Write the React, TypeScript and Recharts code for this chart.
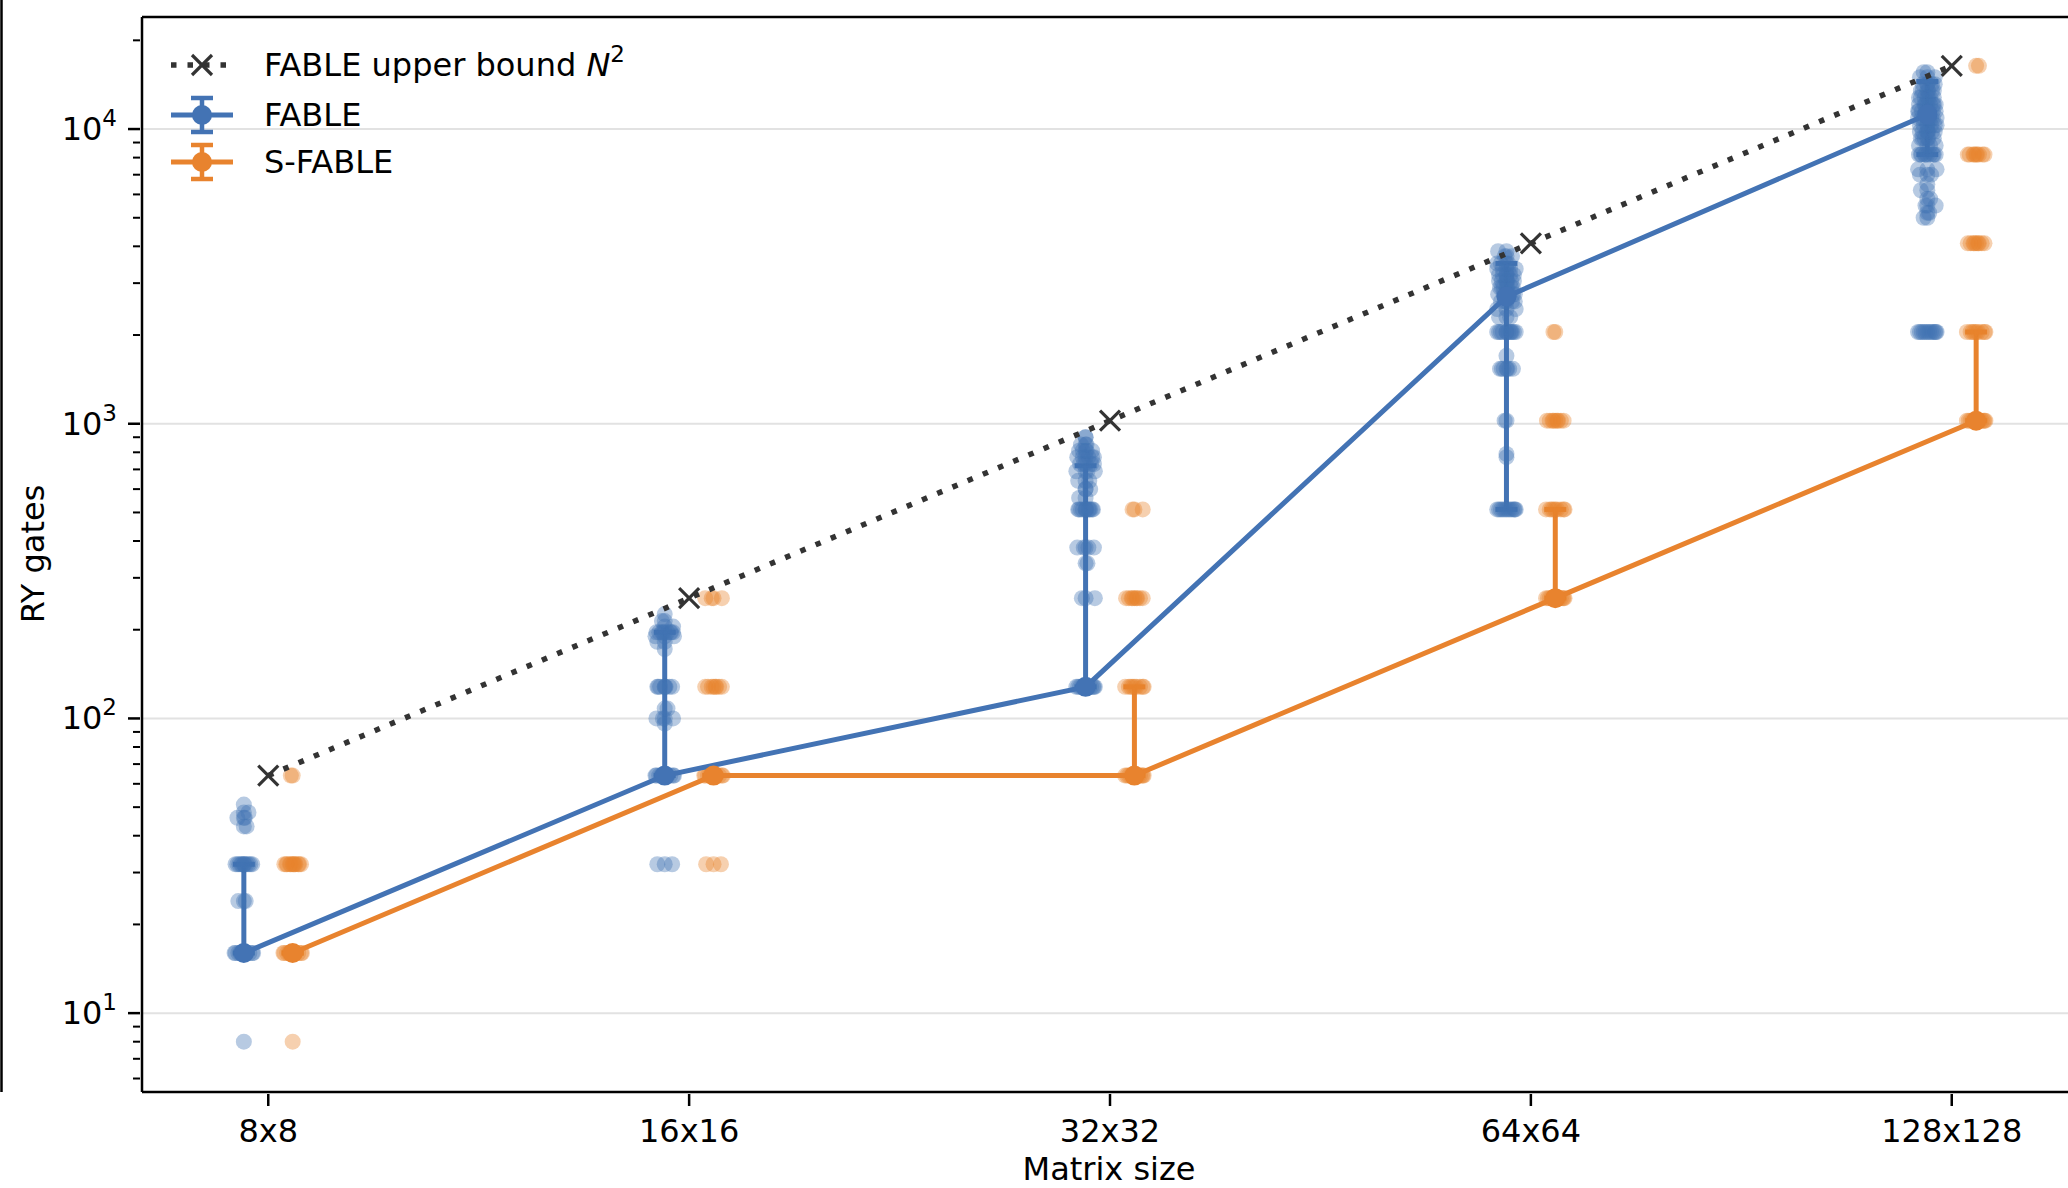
import React from "react";
import { ScatterChart, Scatter, XAxis, YAxis, CartesianGrid, ErrorBar, ReferenceLine } from "recharts";

const BLUE = "#4373b4";
const ORANGE = "#e8832e";
const INK = "#333333";
const FONT = "'DejaVu Sans', sans-serif";
const FS = 32;

const SIZES = ["8x8", "16x16", "32x32", "64x64", "128x128"];
const UPPER_BOUND = [64, 256, 1024, 4096, 16384];

// pointplot centres and error bar ends
const FABLE_MID = [16, 64, 128, 2700, 11200];
const FABLE_LOW = [16, 64, 128, 512, 8192];
const FABLE_HIGH = [32, 196, 720, 3500, 14500];

const SFABLE_MID = [16, 64, 64, 256, 1024];
const SFABLE_LOW = [16, 64, 64, 256, 1024];
const SFABLE_HIGH = [16, 64, 128, 512, 2048];

// strip samples per matrix size: [gate count, number of matrices]
const FABLE_SAMPLES: [number, number][][] = [
  [[8, 1], [16, 12], [24, 3], [32, 12], [43, 2], [46, 3], [48, 2], [51, 1]],
  [[32, 3], [64, 12], [96, 1], [100, 4], [108, 2], [128, 8], [172, 1], [182, 2], [190, 3], [196, 9], [205, 2], [214, 2], [226, 1]],
  [[128, 12], [256, 3], [336, 2], [380, 5], [512, 12], [560, 2], [600, 3], [640, 3], [690, 4], [730, 5], [770, 6], [810, 5], [850, 3], [900, 2]],
  [[512, 12], [770, 1], [790, 1], [1024, 2], [1536, 7], [1700, 1], [2048, 12], [2300, 3], [2450, 3], [2600, 5], [2750, 6], [2900, 7], [3050, 7], [3200, 6], [3350, 6], [3500, 4], [3700, 3], [3850, 2]],
  [[2048, 12], [5000, 2], [5200, 2], [5500, 3], [5800, 2], [6200, 2], [6500, 1], [7000, 3], [7300, 3], [8192, 10], [8800, 4], [9300, 6], [9800, 7], [10300, 7], [10900, 8], [11500, 8], [12100, 8], [12800, 7], [13500, 6], [14200, 5], [15000, 3], [15600, 2]],
];

const SFABLE_SAMPLES: [number, number][][] = [
  [[8, 1], [16, 12], [32, 12], [64, 2]],
  [[32, 3], [64, 12], [128, 8], [256, 4]],
  [[64, 12], [128, 9], [256, 9], [512, 3]],
  [[256, 12], [512, 9], [1024, 9], [2048, 2]],
  [[1024, 12], [2048, 9], [4096, 9], [8192, 9], [16384, 2]],
];

const MAJOR_TICKS = [10, 100, 1000, 10000];
const MINOR_TICKS = [6, 7, 8, 9, 20, 30, 40, 50, 60, 70, 80, 90, 200, 300, 400, 500, 600, 700, 800, 900, 2000, 3000, 4000, 5000, 6000, 7000, 8000, 9000, 20000];
const Y_TICKS = [...MINOR_TICKS, ...MAJOR_TICKS].sort((a, b) => a - b);
const Y_DOMAIN: [number, number] = [5.4, 24000];

const DODGE = 0.058;
const JITTER_HALF = 0.022;
const JITTER = [0, 0.8, -0.8, 0.4, -0.4, 1, -1, 0.2, -0.6, 0.6, -0.2, 0.9, -0.9, 0.3, -0.3, 0.7, -0.7, 0.1, -0.5, 0.5];

function stripPoints(groups: [number, number][][], side: number) {
  const pts: { x: number; y: number }[] = [];
  groups.forEach((group, i) => {
    group.forEach(([value, count], j) => {
      for (let k = 0; k < count; k++) {
        const jitter = JITTER[(k + j * 3) % JITTER.length] * JITTER_HALF;
        pts.push({ x: i + side * DODGE + (k === 0 ? 0 : jitter), y: value });
      }
    });
  });
  return pts;
}

function pointSeries(mid: number[], low: number[], high: number[], side: number) {
  return mid.map((y, i) => ({ x: i + side * DODGE, y, err: [y - low[i], high[i] - y] }));
}

const fableStrip = stripPoints(FABLE_SAMPLES, -1);
const sfableStrip = stripPoints(SFABLE_SAMPLES, 1);
const fablePoints = pointSeries(FABLE_MID, FABLE_LOW, FABLE_HIGH, -1);
const sfablePoints = pointSeries(SFABLE_MID, SFABLE_LOW, SFABLE_HIGH, 1);
const boundPoints = UPPER_BOUND.map((y, i) => ({ x: i, y }));

const stripDot = (color: string) => (p: any) => (
  <circle cx={p.cx} cy={p.cy} r={8} fill={color} fillOpacity={0.38} />
);

const bigDot = (color: string) => (p: any) => <circle cx={p.cx} cy={p.cy} r={10} fill={color} />;

function Cross({ cx, cy, size = 10 }: { cx: number; cy: number; size?: number }) {
  return (
    <g stroke={INK} strokeWidth={3.2}>
      <line x1={cx - size} y1={cy - size} x2={cx + size} y2={cy + size} />
      <line x1={cx - size} y1={cy + size} x2={cx + size} y2={cy - size} />
    </g>
  );
}

function YTick({ x, y, payload }: any) {
  const v = payload.value;
  const major = MAJOR_TICKS.includes(v);
  const len = major ? 12 : 7;
  return (
    <g>
      <line x1={x - len} x2={x} y1={y} y2={y} stroke="#000" strokeWidth={major ? 2.5 : 2} />
      {major && (
        <text x={x - len - 11} y={y + 11} textAnchor="end" fontSize={FS} fontFamily={FONT} fill="#000">
          10
          <tspan fontSize={23} dy={-14}>
            {Math.round(Math.log10(v))}
          </tspan>
        </text>
      )}
    </g>
  );
}

function XTick({ x, y, payload }: any) {
  return (
    <g>
      <line x1={x} x2={x} y1={y} y2={y + 12} stroke="#000" strokeWidth={2.5} />
      <text x={x} y={y + 48} textAnchor="middle" fontSize={FS} fontFamily={FONT} fill="#000">
        {SIZES[payload.value]}
      </text>
    </g>
  );
}

function LegendErrorHandle({ y, color }: { y: number; color: string }) {
  return (
    <g>
      <line x1={171} x2={233} y1={y} y2={y} stroke={color} strokeWidth={5} />
      <line x1={202} x2={202} y1={y - 17} y2={y + 17} stroke={color} strokeWidth={4.5} />
      <line x1={191} x2={213} y1={y - 17} y2={y - 17} stroke={color} strokeWidth={4.5} />
      <line x1={191} x2={213} y1={y + 17} y2={y + 17} stroke={color} strokeWidth={4.5} />
      <circle cx={202} cy={y} r={10} fill={color} />
    </g>
  );
}

function Overlay() {
  return (
    <svg width={2068} height={1188} style={{ position: "absolute", left: 0, top: 0, pointerEvents: "none" }}>
      <line x1={1.5} x2={1.5} y1={0} y2={1092} stroke="#000" strokeWidth={2.5} />
      <g fontFamily={FONT} fontSize={FS} fill="#000">
        <line x1={171} x2={233} y1={65} y2={65} stroke={INK} strokeWidth={5.5} strokeDasharray="5.5 11" />
        <Cross cx={202} cy={65} />
        <text x={264} y={76}>
          FABLE upper bound <tspan fontStyle="italic">N</tspan>
          <tspan fontSize={23} dy={-14}>2</tspan>
        </text>
        <LegendErrorHandle y={115} color={BLUE} />
        <text x={264} y={126}>FABLE</text>
        <LegendErrorHandle y={162} color={ORANGE} />
        <text x={264} y={173}>S-FABLE</text>
        <text x={1109} y={1180} textAnchor="middle">Matrix size</text>
        <text x={44} y={554} textAnchor="middle" transform="rotate(-90 44 554)">RY gates</text>
      </g>
    </svg>
  );
}

export default function App() {
  return (
    <div style={{ position: "absolute", left: 0, top: 0, width: 2068, height: 1188, overflow: "hidden", background: "#fff" }}>
      <ScatterChart width={2090} height={1188} margin={{ top: 17, right: 12, left: 0, bottom: 0 }}>
        <CartesianGrid vertical={false} horizontalValues={MAJOR_TICKS} stroke="#e2e2e2" strokeWidth={2} />
        <XAxis
          type="number"
          dataKey="x"
          domain={[-0.3, 4.3]}
          ticks={[0, 1, 2, 3, 4]}
          interval={0}
          allowDataOverflow
          height={96}
          tickSize={0}
          tickLine={false}
          tick={<XTick />}
          axisLine={{ stroke: "#000", strokeWidth: 2.5 }}
        />
        <YAxis
          type="number"
          dataKey="y"
          scale="log"
          domain={Y_DOMAIN}
          ticks={Y_TICKS}
          interval={0}
          allowDataOverflow
          width={142}
          tickSize={0}
          tickLine={false}
          tick={<YTick />}
          axisLine={{ stroke: "#000", strokeWidth: 2.5 }}
        />
        <ReferenceLine y={Y_DOMAIN[1]} stroke="#000" strokeWidth={2.5} />

        <Scatter data={fableStrip} fill={BLUE} shape={stripDot(BLUE)} isAnimationActive={false} />
        <Scatter data={sfableStrip} fill={ORANGE} shape={stripDot(ORANGE)} isAnimationActive={false} />

        <Scatter
          data={fablePoints}
          fill={BLUE}
          line={{ stroke: BLUE, strokeWidth: 5 }}
          lineType="joint"
          shape={bigDot(BLUE)}
          isAnimationActive={false}
        >
          <ErrorBar dataKey="err" direction="y" width={11} stroke={BLUE} strokeWidth={5} isAnimationActive={false} />
        </Scatter>
        <Scatter
          data={sfablePoints}
          fill={ORANGE}
          line={{ stroke: ORANGE, strokeWidth: 5 }}
          lineType="joint"
          shape={bigDot(ORANGE)}
          isAnimationActive={false}
        >
          <ErrorBar dataKey="err" direction="y" width={11} stroke={ORANGE} strokeWidth={5} isAnimationActive={false} />
        </Scatter>

        <Scatter
          data={boundPoints}
          fill={INK}
          line={{ stroke: INK, strokeWidth: 5.5, strokeDasharray: "5.5 11" }}
          lineType="joint"
          shape={(p: any) => <Cross cx={p.cx} cy={p.cy} />}
          isAnimationActive={false}
        />
      </ScatterChart>
      <Overlay />
    </div>
  );
}
